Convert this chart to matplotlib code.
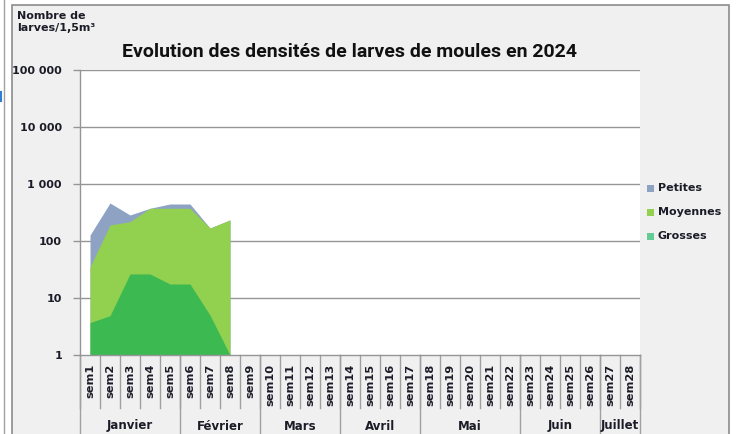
import matplotlib
matplotlib.use("Agg")
import matplotlib.pyplot as plt
from matplotlib.patches import Rectangle
from matplotlib.lines import Line2D
import numpy as np

# ---- data ----
weeks = [f"sem{i}" for i in range(1, 29)]
months = ["Janvier", "Février", "Mars", "Avril", "Mai", "Juin", "Juillet"]
weeks_per_month = [5, 4, 4, 4, 5, 4, 2]
series_names = ["Petites", "Moyennes", "Grosses"]
petites = [127, 464, 286, 375, 446, 446, 169, 234]
moyennes = [35, 191, 218, 375, 375, 375, 169, 234]
grosses = [3.7, 4.9, 26.4, 26.4, 17.6, 17.6, 5.0, 1.0]
yticks = [1, 10, 100, 1000, 10000, 100000]
ytick_labels = ["1", "10", "100", "1 000", "10 000", "100 000"]

fill_colors = ["#8EA3C3", "#92D050", "#3CB950"]
legend_colors = ["#8EA3C3", "#92D050", "#62CC94"]
txt = "#1c1c28"
grid_c = "#959595"

W, H = 736, 434
fig = plt.figure(figsize=(W / 100, H / 100), dpi=100)
fig.patch.set_facecolor("white")

def fx(px):
    return px / W

def fy(py):
    return 1 - py / H

# outer chart frame
fig.patches.append(Rectangle((fx(12), fy(440)), fx(729) - fx(12), fy(5) - fy(440),
                             transform=fig.transFigure, facecolor="#f0f0f0",
                             edgecolor="#8c8c8c", lw=1.2, zorder=-10))
fig.lines.append(Line2D([fx(4), fx(4)], [0, 1], transform=fig.transFigure,
                        color="#a0a0a0", lw=1, zorder=-10))
fig.lines.append(Line2D([fx(0.8), fx(0.8)], [fy(92), fy(101)], transform=fig.transFigure,
                        color="#2f7fd0", lw=1.5, zorder=-10))

L, R, T, B = 80, 640, 70, 355
ax = fig.add_axes([fx(L), fy(B), fx(R) - fx(L), fy(T) - fy(B)])
ax.set_zorder(1)
ax.set_facecolor("white")

x = np.arange(len(petites))
for vals, col in zip([petites, moyennes, grosses], fill_colors):
    ax.fill_between(x, 1, vals, color=col, lw=0, zorder=2)

ax.set_yscale("log")
ax.set_ylim(1, 100000)
ax.set_xlim(-0.5, len(weeks) - 0.5)
ax.set_yticks(yticks)
ax.set_yticklabels(ytick_labels)
ax.yaxis.set_minor_locator(matplotlib.ticker.NullLocator())
ax.set_xticks([])
for yv in yticks[1:]:
    ax.axhline(yv, color=grid_c, lw=1, zorder=1)
for s in ["top", "right"]:
    ax.spines[s].set_visible(False)
for s in ["left", "bottom"]:
    ax.spines[s].set_color(grid_c)
    ax.spines[s].set_linewidth(1)
ax.tick_params(axis="y", length=5, color=grid_c, width=1, pad=8,
               labelsize=8.0, labelcolor=txt)
for lab in ax.get_yticklabels():
    lab.set_fontweight("bold")

# category axis
tr = ax.get_xaxis_transform()
h_ax = B - T
def ay(py):
    return (B - py) / h_ax

for i in range(len(weeks) + 1):
    ax.plot([i - 0.5, i - 0.5], [0, ay(408)], transform=tr, color="#a0a0a0",
            lw=1, clip_on=False)
for i, w in enumerate(weeks):
    ax.text(i, ay(364), w, transform=tr, rotation=90, ha="center", va="top",
            fontsize=8.2, fontweight="bold", color=txt)
start = 0
edges = [-0.5]
for m, n in zip(months, weeks_per_month):
    c = start + (n - 1) / 2
    ax.text(c, ay(426), m, transform=tr, ha="center", va="center",
            fontsize=8.5, fontweight="bold", color=txt)
    start += n
    edges.append(start - 0.5)
for e in edges:
    ax.plot([e, e], [0, ay(440)], transform=tr, color="#a0a0a0", lw=1, clip_on=False)

# title and axis label
fig.text(fx(350), fy(52), "Evolution des densités de larves de moules en 2024",
         ha="center", va="center", fontsize=14, fontweight="bold",
         family=["Roboto", "DejaVu Sans"], color="#111111")
fig.text(fx(17), fy(11), "Nombre de\nlarves/1,5m³", ha="left", va="top",
         fontsize=8, fontweight="bold", color=txt, linespacing=1.25)

# legend
for name, col, yc in zip(series_names, legend_colors, [188, 212, 236]):
    fig.patches.append(Rectangle((fx(647), fy(yc + 3.5)), fx(7), 7 / H,
                                 transform=fig.transFigure, facecolor=col,
                                 edgecolor="none"))
    fig.text(fx(658), fy(yc), name, ha="left", va="center", fontsize=8,
             fontweight="bold", color=txt)

fig.savefig("out.png", dpi=100, facecolor=fig.get_facecolor())
